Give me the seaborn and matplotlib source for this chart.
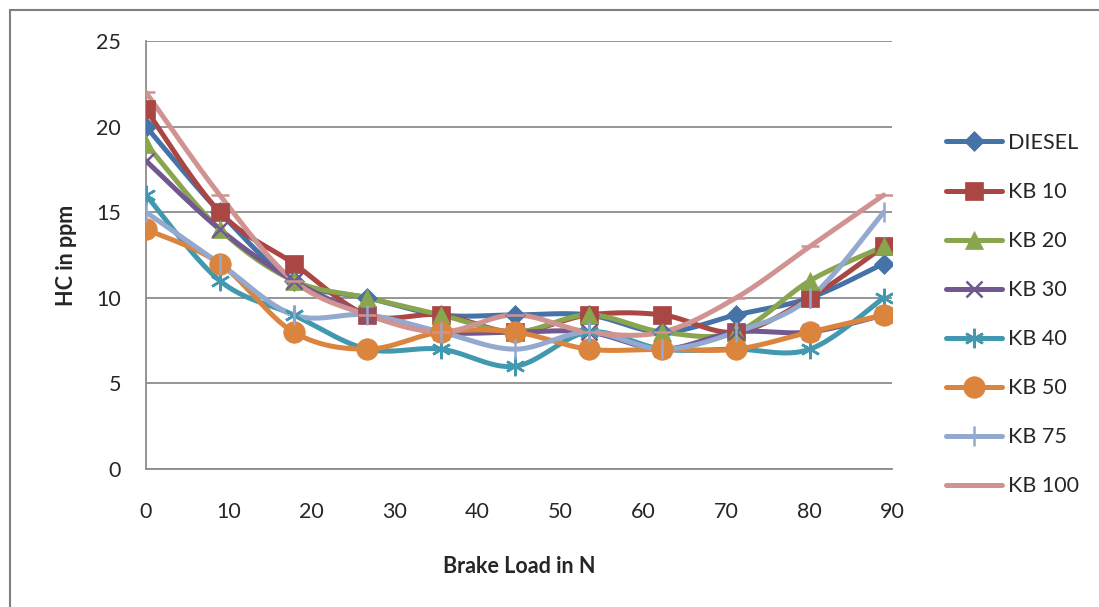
import numpy as np
import pandas as pd
import matplotlib
matplotlib.use("Agg")
import matplotlib.pyplot as plt
import seaborn as sns
from matplotlib.lines import Line2D
from matplotlib.patches import Rectangle

# ---- data ----
brake_load = [0, 8.9, 17.8, 26.7, 35.6, 44.5, 53.4, 62.3, 71.2, 80.1, 89]
diesel = [20, 15, 11, 10, 9, 9, 9, 8, 9, 10, 12]
kb10 = [21, 15, 12, 9, 9, 8, 9, 9, 8, 10, 13]
kb20 = [19, 14, 11, 10, 9, 8, 9, 8, 8, 11, 13]
kb30 = [18, 14, 11, 9, 8, 8, 8, 7, 8, 8, 9]
kb40 = [16, 11, 9, 7, 7, 6, 8, 7, 7, 7, 10]
kb50 = [14, 12, 8, 7, 8, 8, 7, 7, 7, 8, 9]
kb75 = [15, 12, 9, 9, 8, 7, 8, 7, 8, 10, 15]
kb100 = [22, 16, 11, 9, 8, 9, 8, 8, 10, 13, 16]
series_names = ["DIESEL", "KB 10", "KB 20", "KB 30", "KB 40", "KB 50", "KB 75", "KB 100"]
series_values = [diesel, kb10, kb20, kb30, kb40, kb50, kb75, kb100]
y_ticks = [0, 5, 10, 15, 20, 25]
x_ticks = [0, 10, 20, 30, 40, 50, 60, 70, 80, 90]

colors = ["#4572A7", "#AA4643", "#89A54E", "#71588F", "#4198AF", "#DB843D", "#93A9CF", "#D19392"]
markers = ["D", "s", "^", "x", (6, 2, 0), "o", "|", "_"]
msizes = [10.5, 13.5, 12.5, 11, 14, 15.5, 15, 13]
thin = ("x", "|", "_", (6, 2, 0))

def smooth(x, y, n=24):
    # Excel-style smoothed line (cubic Bezier segments through the points)
    x = np.asarray(x, float); y = np.asarray(y, float)
    P = np.column_stack([x, y])
    out = []
    for i in range(len(P) - 1):
        p0 = P[i - 1] if i > 0 else P[i]
        p1 = P[i]; p2 = P[i + 1]
        p3 = P[i + 2] if i + 2 < len(P) else P[i + 1]
        c1 = p1 + (p2 - p0) / 6.0
        c2 = p2 - (p3 - p1) / 6.0
        t = np.linspace(0, 1, n, endpoint=(i == len(P) - 2))[:, None]
        seg = ((1 - t) ** 3) * p1 + 3 * ((1 - t) ** 2) * t * c1 + 3 * (1 - t) * t ** 2 * c2 + t ** 3 * p2
        out.append(seg)
    S = np.vstack(out)
    return S[:, 0], S[:, 1]

sns.set_style("white")
plt.rcParams["font.family"] = ["Lato", "DejaVu Sans"]
FS = 15.5

fig = plt.figure(figsize=(10.99, 6.07), dpi=100)
ax = fig.add_axes([146 / 1099, 1 - 469 / 607, (892 - 146) / 1099, (469 - 41) / 607])

# outer frame
fig.patches.append(Rectangle((10 / 1099, -0.01), 1.1, 1 - 10 / 607 + 0.01, transform=fig.transFigure,
                             fill=False, edgecolor="#7f7f7f", linewidth=1.5))

for name, vals, c, m, ms in zip(series_names, series_values, colors, markers, msizes):
    sx, sy = smooth(brake_load, vals)
    sns.lineplot(x=sx, y=sy, sort=False, ax=ax, color=c, linewidth=3.6, estimator=None, zorder=3)
    mew = 1.8 if m in thin else 0.5
    ax.plot(brake_load, vals, linestyle="none", marker=m, markersize=ms, color=c,
            markeredgecolor=c, markeredgewidth=mew, zorder=4)

ax.set_xlim(0, 90)
ax.set_ylim(0, 25)
ax.set_xticks(x_ticks)
ax.set_yticks(y_ticks)
ax.yaxis.grid(True, color="#8c8c8c", linewidth=1.3)
ax.set_axisbelow(True)
for s in ["top", "right"]:
    ax.spines[s].set_visible(False)
for s in ["left", "bottom"]:
    ax.spines[s].set_color("#8c8c8c")
    ax.spines[s].set_linewidth(1.3)
ax.tick_params(axis="both", direction="out", length=7, width=1.3, color="#8c8c8c",
               labelsize=FS)
ax.tick_params(axis="y", pad=11)
ax.tick_params(axis="x", pad=17)
ax.set_xlabel("Brake Load in N", fontsize=FS, fontweight="bold", labelpad=24)
ax.set_ylabel("HC in ppm", fontsize=FS, fontweight="bold", labelpad=14)

handles = [Line2D([0], [0], color=c, linewidth=3.6, marker=m, markersize=ms,
                  markeredgecolor=c, markeredgewidth=(1.8 if m in thin else 0.5))
           for c, m, ms in zip(colors, markers, msizes)]
leg = fig.legend(handles, series_names, loc="upper left", bbox_to_anchor=(946 / 1099, 1 - 133 / 607),
                 frameon=False, fontsize=FS, handlelength=2.6, labelspacing=1.35, handletextpad=0.3,
                 borderaxespad=0, borderpad=0)

fig.savefig("out.png", dpi=100, facecolor="white")
